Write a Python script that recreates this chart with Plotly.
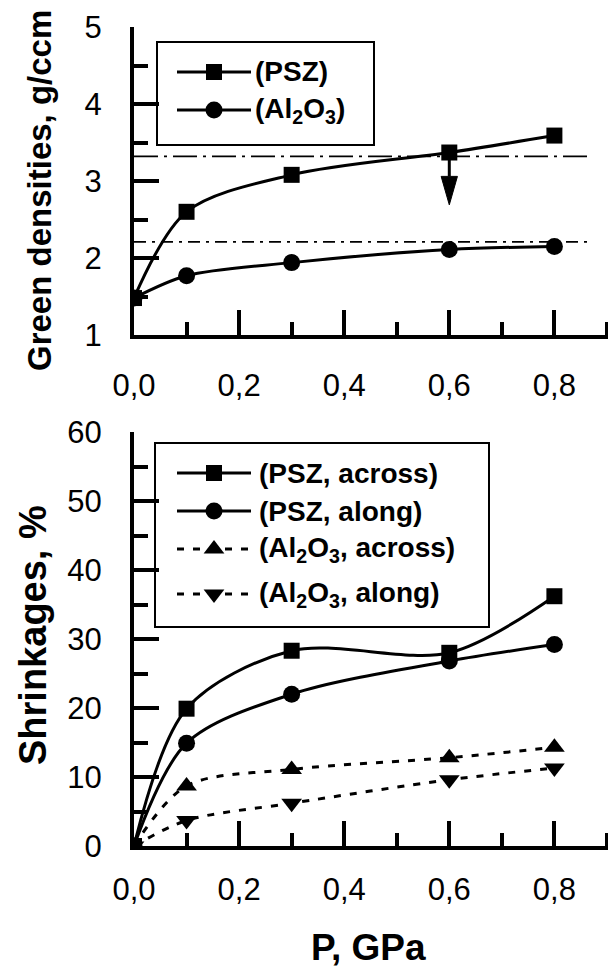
import plotly.graph_objects as go

W, H = 608, 970

# ---------------- data ----------------
P = [0.0, 0.1, 0.3, 0.6, 0.8]

dens_psz = [1.48, 2.60, 3.08, 3.37, 3.59]
dens_al = [1.48, 1.77, 1.94, 2.11, 2.15]

ref_x = [0.0, 0.868]
ref_psz = [3.32, 3.32]
ref_al = [2.21, 2.21]

arrow_x = 0.6
arrow_from = 3.37
arrow_to = 2.69

shr_psz_across = [0.0, 19.9, 28.3, 28.0, 36.2]
shr_psz_along = [0.0, 14.9, 22.0, 26.8, 29.2]
shr_al_across = [0.0, 8.7, 11.1, 12.8, 14.3]
shr_al_along = [0.0, 3.7, 6.2, 9.6, 11.3]

x_tickvals = [0.0, 0.2, 0.4, 0.6, 0.8]
x_ticktext = ["0,0", "0,2", "0,4", "0,6", "0,8"]
y1_tickvals = [1, 2, 3, 4, 5]
y2_tickvals = [0, 10, 20, 30, 40, 50, 60]

top_names = ["(PSZ)", "(Al<sub>2</sub>O<sub>3</sub>)"]
bot_names = ["(PSZ, across)", "(PSZ, along)",
             "(Al<sub>2</sub>O<sub>3</sub>, across)", "(Al<sub>2</sub>O<sub>3</sub>, along)"]

# ---------------- style ----------------
FONT = "Liberation Sans"
BLACK = "black"
LW = 3
DASH = "7px,9px"
SMOOTH = 0.9


def px_x(v):
    return v / W


def px_y(v):
    return 1 - v / H


fig = go.Figure()

# ---- top panel ----
fig.add_trace(go.Scatter(x=ref_x, y=ref_psz, mode="lines", xaxis="x", yaxis="y",
                         line=dict(color=BLACK, width=1.6, dash="24px,6px,3px,6px")))
fig.add_trace(go.Scatter(x=ref_x, y=ref_al, mode="lines", xaxis="x", yaxis="y",
                         line=dict(color=BLACK, width=1.6, dash="12px,6px,3px,6px")))

fig.add_trace(go.Scatter(x=P, y=dens_al, mode="lines+markers", xaxis="x", yaxis="y",
                         line=dict(color=BLACK, width=LW, shape="spline", smoothing=SMOOTH),
                         marker=dict(symbol="circle", size=17, color=BLACK)))
fig.add_trace(go.Scatter(x=P, y=dens_psz, mode="lines+markers", xaxis="x", yaxis="y",
                         line=dict(color=BLACK, width=LW, shape="spline", smoothing=SMOOTH),
                         marker=dict(symbol="square", size=16, color=BLACK)))

# arrow (shaft + head) derived from the arrow values
head_len = 0.37
head_hw = 0.0155
head_base = arrow_to + head_len
fig.add_trace(go.Scatter(x=[arrow_x, arrow_x], y=[arrow_from, head_base], mode="lines",
                         xaxis="x", yaxis="y", line=dict(color=BLACK, width=3)))
fig.add_trace(go.Scatter(x=[arrow_x - head_hw, arrow_x + head_hw, arrow_x, arrow_x - head_hw],
                         y=[head_base, head_base, arrow_to, head_base], mode="lines",
                         fill="toself", fillcolor=BLACK, xaxis="x", yaxis="y",
                         line=dict(color=BLACK, width=1)))

# ---- bottom panel ----
fig.add_trace(go.Scatter(x=P, y=shr_al_along, mode="lines+markers", xaxis="x2", yaxis="y2",
                         line=dict(color=BLACK, width=LW, shape="spline", smoothing=SMOOTH, dash=DASH),
                         marker=dict(symbol="triangle-down", size=18, color=BLACK)))
fig.add_trace(go.Scatter(x=P, y=shr_al_across, mode="lines+markers", xaxis="x2", yaxis="y2",
                         line=dict(color=BLACK, width=LW, shape="spline", smoothing=SMOOTH, dash=DASH),
                         marker=dict(symbol="triangle-up", size=18, color=BLACK)))
fig.add_trace(go.Scatter(x=P, y=shr_psz_along, mode="lines+markers", xaxis="x2", yaxis="y2",
                         line=dict(color=BLACK, width=LW, shape="spline", smoothing=SMOOTH),
                         marker=dict(symbol="circle", size=17, color=BLACK)))
fig.add_trace(go.Scatter(x=P, y=shr_psz_across, mode="lines+markers", xaxis="x2", yaxis="y2",
                         line=dict(color=BLACK, width=LW, shape="spline", smoothing=SMOOTH),
                         marker=dict(symbol="square", size=16, color=BLACK)))

# ---- custom legends (pixel overlay axis) ----
annotations = []
shapes = []


def legend_box(x0, y0, x1, y1):
    shapes.append(dict(type="rect", xref="paper", yref="paper",
                       x0=px_x(x0), x1=px_x(x1), y0=px_y(y1), y1=px_y(y0),
                       line=dict(color=BLACK, width=2), fillcolor="white", layer="below"))


def legend_item(row_y, symbol, dashed, label, text_x, msize):
    fig.add_trace(go.Scatter(x=[177, 251], y=[row_y, row_y], mode="lines", xaxis="x3", yaxis="y3",
                             line=dict(color=BLACK, width=LW, dash=DASH if dashed else "solid")))
    fig.add_trace(go.Scatter(x=[214], y=[row_y], mode="markers", xaxis="x3", yaxis="y3",
                             marker=dict(symbol=symbol, size=msize, color=BLACK)))
    annotations.append(dict(xref="paper", yref="paper", x=px_x(text_x), y=px_y(row_y),
                            xanchor="left", yanchor="middle", showarrow=False, text=label,
                            font=dict(family=FONT, size=28, color=BLACK)))


legend_box(157, 42, 374, 145)
legend_item(72, "square", False, "<b>" + top_names[0] + "</b>", 253, 16)
legend_item(110, "circle", False, "<b>" + top_names[1] + "</b>", 253, 17)

legend_box(155, 443, 489, 627)
legend_item(473, "square", False, "<b>" + bot_names[0] + "</b>", 257, 16)
legend_item(511, "circle", False, "<b>" + bot_names[1] + "</b>", 257, 17)
legend_item(549, "triangle-up", True, "<b>" + bot_names[2] + "</b>", 257, 18)
legend_item(594, "triangle-down", True, "<b>" + bot_names[3] + "</b>", 257, 18)

# axis titles
annotations.append(dict(xref="paper", yref="paper", x=px_x(40), y=px_y(191),
                        xanchor="center", yanchor="middle", showarrow=False, textangle=-90,
                        text="<b>Green densities, g/ccm</b>",
                        font=dict(family=FONT, size=33, color=BLACK)))
annotations.append(dict(xref="paper", yref="paper", x=px_x(33), y=px_y(635),
                        xanchor="center", yanchor="middle", showarrow=False, textangle=-90,
                        text="<b>Shrinkages, %</b>",
                        font=dict(family=FONT, size=38, color=BLACK)))
annotations.append(dict(xref="paper", yref="paper", x=px_x(368), y=px_y(947),
                        xanchor="center", yanchor="middle", showarrow=False,
                        text="<b>P, GPa</b>",
                        font=dict(family=FONT, size=37, color=BLACK)))

axis_common = dict(showline=True, linewidth=4, linecolor=BLACK, ticks="inside", ticklen=25,
                   tickwidth=4, tickcolor=BLACK, showgrid=False, zeroline=False,
                   automargin=False,
                   tickfont=dict(family=FONT, size=31, color=BLACK))

x_left = 134
x_range_end = (W - x_left) / 525.5

xaxis_common = dict(axis_common, range=[0, x_range_end], domain=[px_x(x_left), 1.0],
                    tickmode="array", tickvals=x_tickvals, ticktext=x_ticktext,
                    minor=dict(ticks="inside", ticklen=13, tickwidth=4, tickcolor=BLACK,
                               tick0=0, dtick=0.1, showgrid=False))

fig.update_layout(
    template="none",
    width=W, height=H,
    autosize=False,
    margin=dict(l=0, r=0, t=0, b=0, pad=0, autoexpand=False),
    paper_bgcolor="white", plot_bgcolor="rgba(0,0,0,0)",
    showlegend=False,
    xaxis=dict(xaxis_common, anchor="y", ticklabelstandoff=20),
    yaxis=dict(axis_common, range=[1, 5], domain=[px_y(335), px_y(27)], anchor="x",
               tickmode="array", tickvals=y1_tickvals, ticklabelstandoff=22,
               minor=dict(ticks="inside", ticklen=14, tickwidth=4, tickcolor=BLACK,
                          tick0=1, dtick=0.5, showgrid=False)),
    xaxis2=dict(xaxis_common, anchor="y2", ticklabelstandoff=13),
    yaxis2=dict(axis_common, range=[0, 60], domain=[px_y(846), px_y(432)], anchor="x2",
                tickmode="array", tickvals=y2_tickvals, ticklabelstandoff=22,
                minor=dict(ticks="inside", ticklen=14, tickwidth=4, tickcolor=BLACK,
                           tick0=0, dtick=5, showgrid=False)),
    xaxis3=dict(domain=[0, 1], range=[0, W], visible=False, anchor="y3", fixedrange=True,
                automargin=False),
    yaxis3=dict(domain=[0, 1], range=[H, 0], visible=False, anchor="x3", fixedrange=True,
                automargin=False),
    annotations=annotations,
    shapes=shapes,
)

fig.write_html("out.html")
